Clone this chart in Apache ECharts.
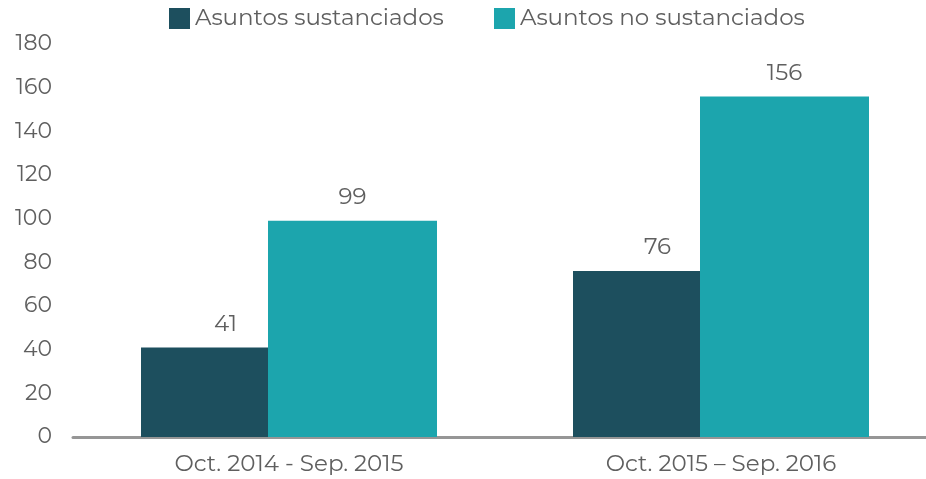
<!DOCTYPE html>
<html>
<head>
<meta charset="utf-8">
<script src="https://cdn.jsdelivr.net/npm/echarts@6/dist/echarts.min.js"></script>
<style>
  html, body { margin: 0; padding: 0; background: #fff; }
  #chart { width: 926px; height: 479px; }
</style>
</head>
<body>
<div id="chart"></div>
<script>
const categories = ["Oct. 2014 - Sep. 2015", "Oct. 2015 – Sep. 2016"];
const seriesNames = ["Asuntos sustanciados", "Asuntos no sustanciados"];
const sustanciados = [41, 76];
const noSustanciados = [99, 156];

const textColor = "#5f5f5f";
const fontFamily = "Montserrat, 'Noto Sans', Lato, sans-serif";

const legendBase = {
  top: 2,
  itemWidth: 21,
  itemHeight: 21,
  icon: "rect",
  textStyle: { color: textColor, fontSize: 23, fontFamily: fontFamily }
};

const myChart = echarts.init(document.getElementById("chart"));
const option = {
  textStyle: { fontFamily: fontFamily },
  legend: [
    Object.assign({ left: 164, data: [seriesNames[0]] }, legendBase),
    Object.assign({ left: 489, data: [seriesNames[1]] }, legendBase)
  ],
  grid: {
    left: 73,
    top: 44,
    bottom: 42,
    width: 864,
    outerBoundsMode: "none",
    containLabel: false
  },
  xAxis: {
    type: "category",
    data: categories,
    axisTick: { show: false },
    axisLine: { lineStyle: { color: "#969696", width: 3 } },
    axisLabel: { color: textColor, fontSize: 23, margin: 16, fontFamily: fontFamily }
  },
  yAxis: {
    type: "value",
    min: 0,
    max: 180,
    interval: 20,
    splitLine: { show: false },
    axisLine: { show: false },
    axisLabel: { color: textColor, fontSize: 22, margin: 21, fontFamily: fontFamily }
  },
  series: [
    {
      name: seriesNames[0],
      type: "bar",
      data: sustanciados,
      barWidth: 127,
      barGap: "0%",
      itemStyle: { color: "#1d4f5e" },
      label: { show: true, position: "top", distance: 12, offset: [21, 0], color: textColor, fontSize: 23, fontFamily: fontFamily }
    },
    {
      name: seriesNames[1],
      type: "bar",
      data: noSustanciados,
      barWidth: 169,
      barGap: "0%",
      itemStyle: { color: "#1ca5ad" },
      label: { show: true, position: "top", distance: 12, color: textColor, fontSize: 23, fontFamily: fontFamily }
    }
  ]
};
myChart.setOption(option);
</script>
</body>
</html>
